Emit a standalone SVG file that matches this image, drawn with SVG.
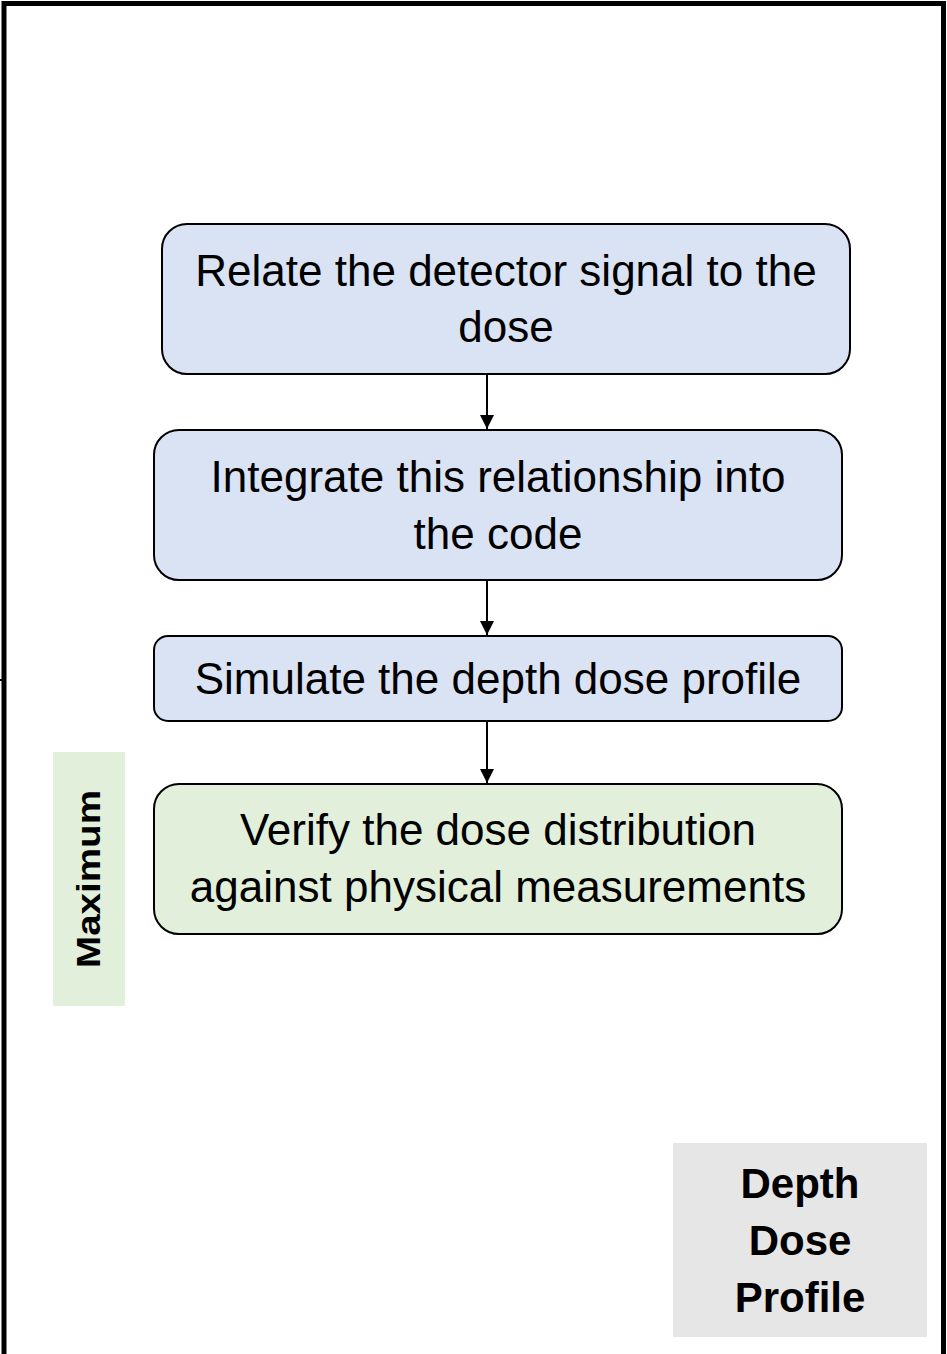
<svg xmlns="http://www.w3.org/2000/svg" width="947" height="1354" viewBox="0 0 947 1354">
<defs>
<style>
.box{stroke:#000;stroke-width:2}
.blue{fill:#DAE3F3}
.green{fill:#E2EFDA}
.t{font-family:"Liberation Sans",Arial,sans-serif;font-size:44px;fill:#000;text-anchor:middle}
.b{font-family:"Liberation Sans",Arial,sans-serif;font-weight:bold;fill:#000;text-anchor:middle}
.conn{stroke:#000;stroke-width:2;fill:none}
</style>
<marker id="arr" viewBox="0 0 10 10" refX="10" refY="5" markerWidth="7" markerHeight="7" markerUnits="strokeWidth" orient="auto">
<path d="M0,0 L10,5 L0,10 Z" fill="#000"/>
</marker>
</defs>
<rect x="0" y="0" width="947" height="1354" fill="#fff"/>
<g id="frame">
<path d="M4,1360 L4,3.5 L943.5,3.5 L943.5,1360" fill="none" stroke="#000" stroke-width="5"/>
<line x1="0" y1="680" x2="6" y2="680" stroke="#000" stroke-width="2"/>
</g>
<g id="connectors">
<line class="conn" x1="487" y1="375" x2="487" y2="429" marker-end="url(#arr)"/>
<line class="conn" x1="487" y1="581" x2="487" y2="635" marker-end="url(#arr)"/>
<line class="conn" x1="487" y1="722" x2="487" y2="783" marker-end="url(#arr)"/>
</g>
<g id="n1">
<rect class="box blue" x="162" y="224" width="688" height="150" rx="25"/>
<text class="t" x="506" y="286">Relate the detector signal to the</text>
<text class="t" x="506" y="342">dose</text>
</g>
<g id="n2">
<rect class="box blue" x="154" y="430" width="688" height="150" rx="25"/>
<text class="t" x="498" y="492">Integrate this relationship into</text>
<text class="t" x="498" y="549">the code</text>
</g>
<g id="n3">
<rect class="box blue" x="154" y="636" width="688" height="85" rx="14"/>
<text class="t" x="498" y="694">Simulate the depth dose profile</text>
</g>
<g id="n4">
<rect class="box green" x="154" y="784" width="688" height="150" rx="25"/>
<text class="t" x="498" y="845">Verify the dose distribution</text>
<text class="t" x="498" y="902">against physical measurements</text>
</g>
<g id="maximum">
<rect x="53" y="752" width="72" height="254" fill="#E2EFDA"/>
<text class="b" font-size="34" textLength="178" lengthAdjust="spacingAndGlyphs" transform="translate(100,879) rotate(-90)">Maximum</text>
</g>
<g id="ddp">
<rect x="673" y="1143" width="254" height="194" fill="#E7E6E6"/>
<text class="b" font-size="42" x="800" y="1198">Depth</text>
<text class="b" font-size="42" x="800" y="1255">Dose</text>
<text class="b" font-size="42" x="800" y="1312">Profile</text>
</g>
</svg>
